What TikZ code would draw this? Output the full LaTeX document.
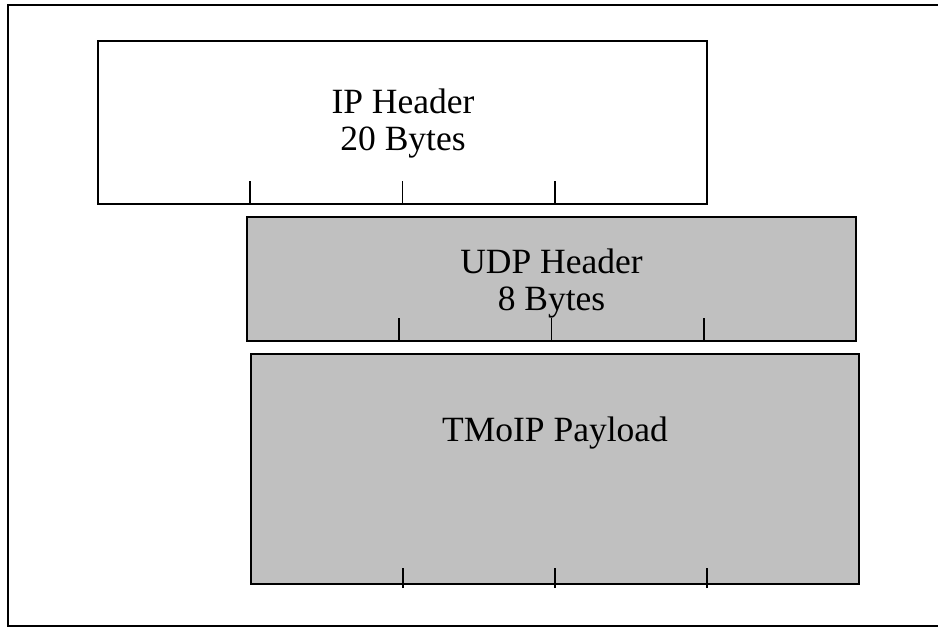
\documentclass[tikz,border=0pt]{standalone}
\usepackage{fontspec}
\setmainfont{Liberation Serif}
\usetikzlibrary{calc}
\begin{document}
\begin{tikzpicture}[x=1pt,y=-1pt,
  frameline/.style={line width=1.8pt},
  pbox/.style={draw, line width=1.8pt, inner sep=0pt, outer sep=0pt},
  greybox/.style={pbox, fill=boxgrey},
  tick/.style={line width=1.8pt},
  lbl/.style={inner sep=0pt, align=center, font=\fontsize{35.5}{36.5}\selectfont}]
\definecolor{boxgrey}{HTML}{C0C0C0}
\useasboundingbox (0,0) rectangle (938,628);
\fill[white] (0,0) rectangle (938,628);
% outer frame (right side lies outside the picture)
\coordinate (ftr) at (945,5);
\coordinate (ftl) at (8,5);
\coordinate (fbl) at (8,626);
\coordinate (fbr) at (945,626);
\draw[frameline] (ftr) -- (ftl) -- (fbl) -- (fbr);
% boxes
\node[pbox, fill=white, minimum width=609pt, minimum height=163pt] (ip) at (402.5,122.5) {};
\node[greybox, minimum width=609pt, minimum height=124pt] (udp) at (551.5,279) {};
\node[greybox, minimum width=608pt, minimum height=230pt] (pay) at (555,469) {};
% labels
\node[lbl] (iplbl) at (403,123.5) {IP Header\\20 Bytes};
\node[lbl] (udplbl) at (551.5,283.5) {UDP Header\\8 Bytes};
\node[lbl, anchor=base] (paylbl) at (555,442) {TMoIP Payload};
% ticks
\foreach \f in {0.25,0.5,0.75}{
  \draw[tick] ($(ip.south west)!\f!(ip.south east)$) -- ++(0,-23);
  \draw[tick] ($(udp.south west)!\f!(udp.south east)$) -- ++(0,-23);
  \draw[tick] ($(pay.south west)!\f!(pay.south east)$) ++(0,4) -- ++(0,-20);
}
\end{tikzpicture}
\end{document}
